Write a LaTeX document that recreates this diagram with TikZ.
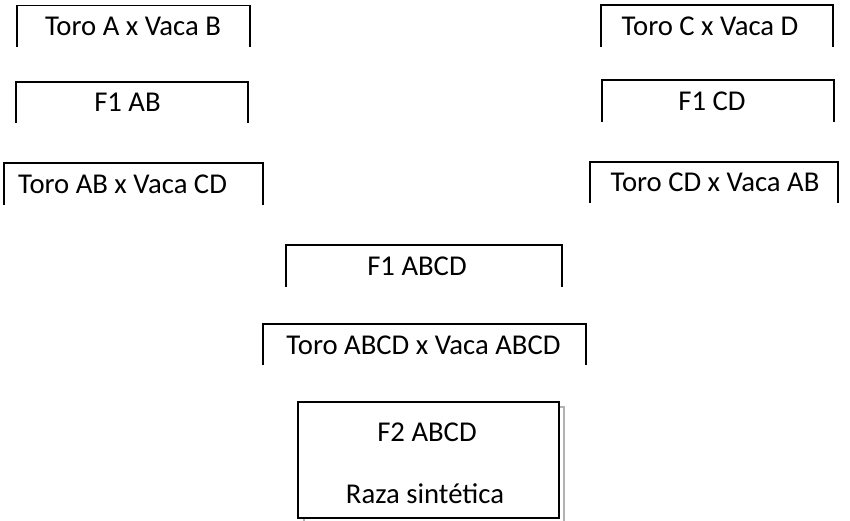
\documentclass[tikz,border=0pt]{standalone}
\usepackage{fontspec}
\setmainfont{Carlito}
\begin{document}
\begin{tikzpicture}[x=1pt, y=-1pt,
    openbox/.style={line width=1.6pt, black},
    lbl/.style={anchor=base, inner sep=0pt, font=\fontsize{28.7}{34}\selectfont}]
        \useasboundingbox (0,0) rectangle (850,521);
        % crosses (boxes open at the bottom)
        \foreach \n/\xa/\ya/\xb/\yb/\tx/\txt in {
            tAvB/17/5.5/250/47/133/Toro A x Vaca B,
            fAB/16/82/248/123/127.5/F1 AB,
            tABvCD/4/163/263/205/122.5/Toro AB x Vaca CD,
            tCvD/601/5/833/47/710/Toro C x Vaca D,
            fCD/602/80/834/122/712/F1 CD,
            tCDvAB/590/162/838/203/715/Toro CD x Vaca AB,
            fABCD/286/245/562/287/417/F1 ABCD,
            tABCDvABCD/263/324/586/365/423.5/Toro ABCD x Vaca ABCD} {
            \draw[openbox] (\xa,\yb) -- (\xa,\ya) -- (\xb,\ya) -- (\xb,\yb);
            \node[lbl] (\n) at (\tx,{(\ya+\yb)/2+9.5}) {\txt};
        }
        % F2 box with shadow frame
        \draw[gray!60, line width=1.5pt] (304,523) -- (304,407) -- (564,407) -- (564,523);
        \draw[black, line width=1.2pt, fill=white] (298,402) rectangle (559,518);
        \node[lbl] (fTwo) at (427,441) {F2 ABCD};
        \node[lbl] (raza) at (425,503) {Raza sintética};
    \end{tikzpicture}
\end{document}
